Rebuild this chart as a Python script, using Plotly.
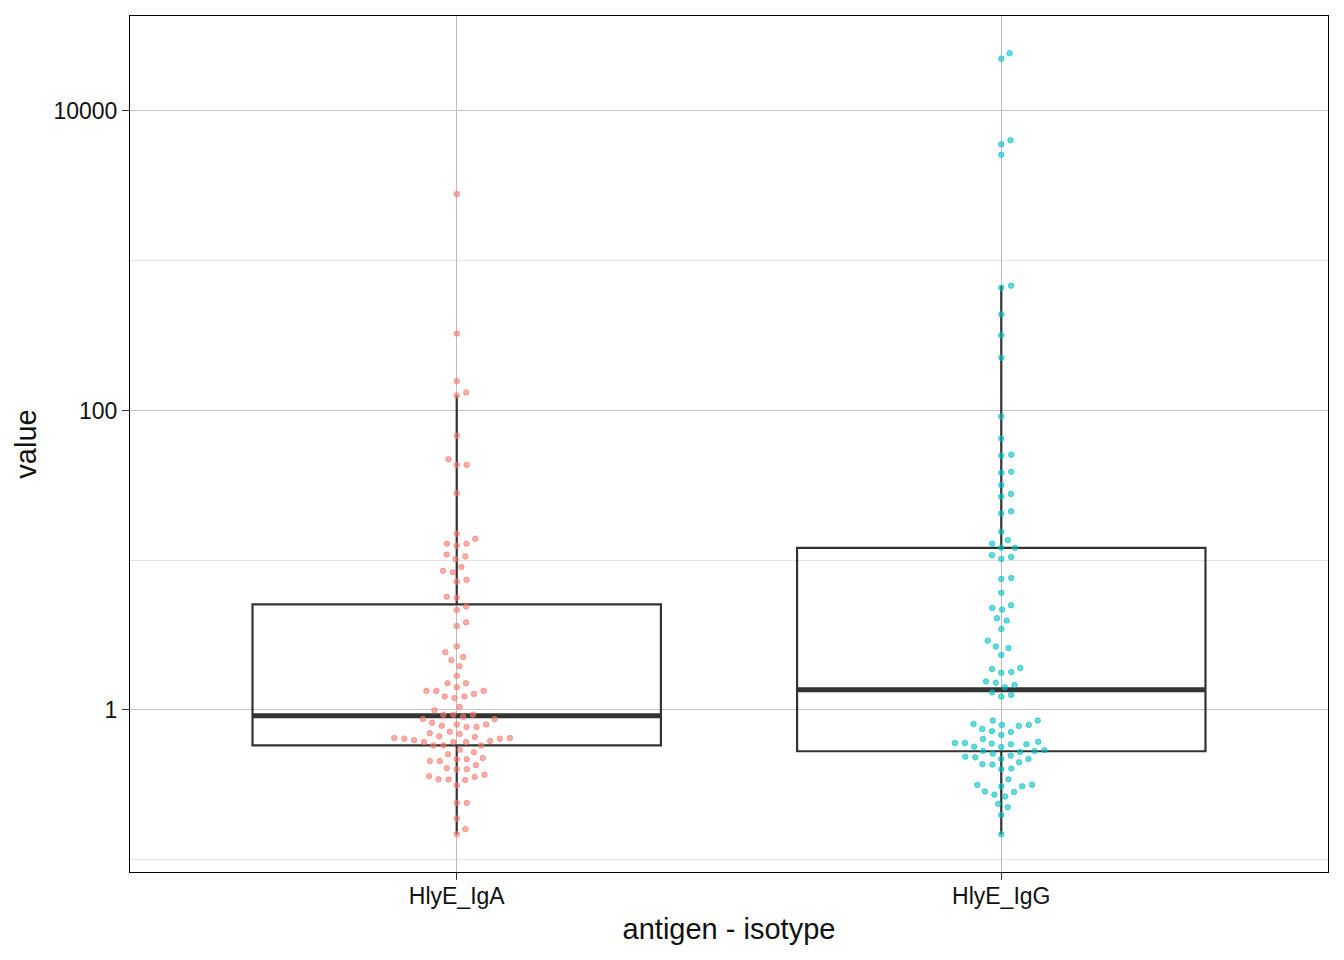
import numpy as np
import plotly.graph_objects as go

# antigen - isotype groups
groups = ['HlyE_IgA', 'HlyE_IgG']
colors = ['#F8766D', '#00BFC4']

# values (log scale)
iga = [2790, 326, 157, 132, 126, 67.9, 47.2, 43.3, 43.3, 28.0,
       15.0, 13.9, 12.9, 12.9, 12.5, 10.9, 10.6, 10.2, 9.0, 8.5,
       8.3, 7.4, 7.2, 5.7, 5.6, 4.9, 4.65, 3.85, 3.64, 2.66,
       2.43, 2.26, 2.15, 1.96, 1.69, 1.51, 1.51, 1.42, 1.34, 1.34,
       1.34, 1.28, 1.23, 1.23, 1.20, 1.05, 0.995, 0.93, 0.93, 0.93,
       0.90, 0.87, 0.87, 0.82, 0.80, 0.80, 0.785, 0.77, 0.77, 0.716,
       0.70, 0.69, 0.667, 0.66, 0.65, 0.65, 0.643, 0.643, 0.628, 0.621,
       0.611, 0.611, 0.611, 0.58, 0.58, 0.58, 0.543, 0.522, 0.506, 0.478,
       0.469, 0.469, 0.456, 0.456, 0.428, 0.408, 0.402, 0.402, 0.370, 0.361,
       0.357, 0.344, 0.343, 0.341, 0.314, 0.239, 0.239, 0.188, 0.160, 0.148]

igg = [24300, 22340, 6370, 5990, 5100, 681, 661, 437, 318, 225,
       91, 64.9, 50.7, 49.9, 39.0, 38.3, 31.8, 27.7, 26.6, 21.2,
       20.5, 15.5, 13.6, 12.9, 12.1, 12.1, 10.8, 10.5, 10.2, 7.6,
       7.5, 6.07, 5.0, 4.80, 4.68, 4.10, 3.95, 3.47, 2.90, 2.65,
       2.59, 2.33, 1.91, 1.88, 1.79, 1.77, 1.55, 1.52, 1.47, 1.42,
       1.31, 1.26, 1.23, 0.849, 0.849, 0.806, 0.794, 0.794, 0.782, 0.747,
       0.721, 0.713, 0.681, 0.640, 0.614, 0.602, 0.602, 0.596, 0.590, 0.590,
       0.569, 0.566, 0.539, 0.532, 0.532, 0.524, 0.511, 0.495, 0.488, 0.483,
       0.471, 0.471, 0.447, 0.434, 0.432, 0.406, 0.402, 0.344, 0.317, 0.316,
       0.309, 0.309, 0.286, 0.283, 0.272, 0.264, 0.236, 0.224, 0.199, 0.148]

data = [iga, igg]

# page body adds 8px, so the figure is a bit smaller than the window
W, H = 1336, 952
margin = dict(l=122, r=16, t=8, b=88)
x_range = [-0.6, 1.6]
y_range = [-1.082, 4.634]
px_x = (W - margin['l'] - margin['r']) / (x_range[1] - x_range[0])
px_y = (H - margin['t'] - margin['b']) / (y_range[1] - y_range[0])


def swarm(vals, d=10.0):
    # simple beeswarm in pixel space, lowest values placed first
    ys = np.log10(np.asarray(vals, float)) * px_y
    order = np.argsort(ys)
    xs = np.zeros(len(ys))
    placed = []
    for i in order:
        cands = [0.0]
        for j in placed:
            dy = ys[i] - ys[j]
            if abs(dy) < d:
                dx = np.sqrt(d * d - dy * dy)
                cands += [xs[j] - dx, xs[j] + dx]
        cands.sort(key=lambda c: (round(abs(c), 6), -c))
        for c in cands:
            ok = all((c - xs[j]) ** 2 + (ys[i] - ys[j]) ** 2 >= d * d - 1e-6 for j in placed)
            if ok:
                xs[i] = c
                break
        placed.append(i)
    return xs / px_x


fig = go.Figure()

for k, vals in enumerate(data):
    lv = np.log10(vals)
    q1, med, q3 = np.quantile(lv, [0.25, 0.5, 0.75])
    iqr = q3 - q1
    lo = lv[lv >= q1 - 1.5 * iqr].min()
    hi = lv[lv <= q3 + 1.5 * iqr].max()
    fig.add_trace(go.Box(x=[k], q1=[10 ** q1], median=[10 ** med], q3=[10 ** q3],
                         lowerfence=[10 ** lo], upperfence=[10 ** hi],
                         width=0.75, whiskerwidth=0, boxpoints=False,
                         line=dict(color='#333333', width=2.2),
                         fillcolor='rgba(0,0,0,0)', showlegend=False, hoverinfo='skip'))
    fig.add_trace(go.Scatter(x=[k - 0.375, k + 0.375], y=[10 ** med, 10 ** med], mode='lines',
                             line=dict(color='#333333', width=5), showlegend=False, hoverinfo='skip'))

for k, vals in enumerate(data):
    off = swarm(vals)
    c = colors[k]
    r, g, b = int(c[1:3], 16), int(c[3:5], 16), int(c[5:7], 16)
    rgba = 'rgba(%d,%d,%d,0.6)' % (r, g, b)
    fig.add_trace(go.Scatter(x=k + off, y=vals, mode='markers',
                             marker=dict(size=5.5, color=rgba, line=dict(color=rgba, width=1)),
                             showlegend=False, hovertemplate='%{y}<extra></extra>'))

font = 'Liberation Sans, Arial, sans-serif'
fig.update_layout(
    width=W, height=H, margin=margin,
    plot_bgcolor='white', paper_bgcolor='white',
    font=dict(family=font, color='#111111'),
    xaxis=dict(range=x_range, tickvals=[0, 1], ticktext=groups,
               showgrid=True, gridcolor='#bdbdbd', gridwidth=1, zeroline=False,
               showline=True, mirror=True, linecolor='black', linewidth=1,
               ticks='outside', ticklen=7, tickcolor='#333333', tickwidth=1,
               ticklabelstandoff=-4,
               tickfont=dict(size=23),
               title=dict(text='antigen - isotype', font=dict(size=29), standoff=11)),
    yaxis=dict(type='log', range=y_range, tickvals=[1, 100, 10000],
               ticktext=['1', '100', '10000'],
               showgrid=True, gridcolor='#c4c4c4', gridwidth=1, zeroline=False,
               minor=dict(tickvals=[0.1, 10, 1000], showgrid=True, gridcolor='#e3e3e3', ticks=''),
               showline=True, mirror=True, linecolor='black', linewidth=1,
               ticks='outside', ticklen=7, tickcolor='#333333', tickwidth=1,
               tickfont=dict(size=23),
               title=dict(text='value', font=dict(size=29), standoff=8)),
)

fig.write_html("out.html")
